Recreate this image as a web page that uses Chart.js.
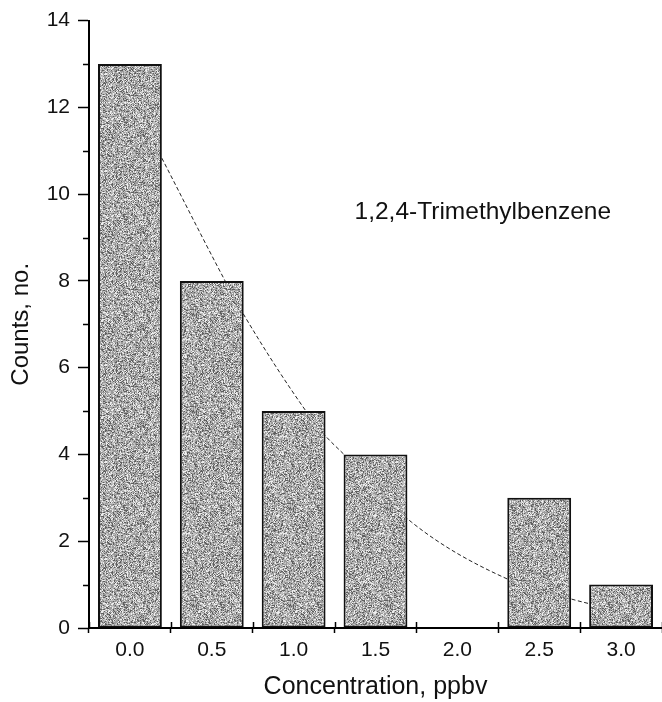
<!DOCTYPE html>
<html>
<head>
<meta charset="utf-8">
<script src="https://cdn.jsdelivr.net/npm/chart.js@4/dist/chart.umd.min.js"></script>
<style>
  html, body { margin: 0; padding: 0; background: #fff; }
  #wrap { width: 662px; height: 702px; }
</style>
</head>
<body>
<div id="wrap"><canvas id="c" width="662" height="702"></canvas></div>
<script>
// Concentration classes (ppbv) and number of samples in each
const categories = ['0.0', '0.5', '1.0', '1.5', '2.0', '2.5', '3.0'];
const counts = [13, 8, 5, 4, 0, 3, 1];

// Fitted decay curve, sampled along the concentration axis
const fitConc = [0.195, 0.573, 0.683, 1.079, 1.189, 1.305, 1.72, 2.305, 2.713, 2.817];
const fitCounts = [10.83, 8.06, 7.30, 4.98, 4.45, 4.01, 2.44, 1.13, 0.65, 0.55];

// Y axis ticks
const yMajorTicks = [0, 2, 4, 6, 8, 10, 12, 14];
const yMinorTicks = [1, 3, 5, 7, 9, 11, 13];

// Compound label, anchored in data units (concentration, count)
const compoundName = '1,2,4-Trimethylbenzene';
const compoundAnchor = [1.372, 9.42];

const FONT = '"Liberation Sans", Arial, Helvetica, sans-serif';

// 32-bit integer hash used for the speckle texture
function hash32(n) {
  n = n >>> 0;
  n ^= n >>> 16; n = Math.imul(n, 0x7feb352d);
  n ^= n >>> 15; n = Math.imul(n, 0x846ca68b);
  n ^= n >>> 16;
  return n >>> 0;
}

// Speckled grey fill for the bars
function stipplePattern() {
  const size = 97;
  const t = document.createElement('canvas');
  t.width = size; t.height = size;
  const g = t.getContext('2d');
  const img = g.createImageData(size, size);
  for (let y = 0; y < size; y++) {
    for (let x = 0; x < size; x++) {
      const u = (hash32(y * size + x + 12345) % 1000) / 1000;
      let v;
      if (u < 0.18) v = 95;
      else if (u < 0.55) v = 155;
      else if (u < 0.85) v = 195;
      else v = 238;
      const k = (y * size + x) * 4;
      img.data[k] = img.data[k + 1] = img.data[k + 2] = v;
      img.data[k + 3] = 255;
    }
  }
  g.putImageData(img, 0, 0);
  return document.getElementById('c').getContext('2d').createPattern(t, 'repeat');
}

// Short tick marks that Chart.js does not draw by itself:
// minor y ticks and the inner half of the x boundary ticks.
const extraTicks = {
  id: 'extraTicks',
  afterDraw(chart) {
    const { ctx, scales } = chart;
    const x = scales.x, y = scales.y;
    ctx.save();
    ctx.strokeStyle = '#000';
    ctx.lineWidth = 1.5;
    yMinorTicks.forEach(v => {
      const py = Math.round(y.getPixelForValue(v)) + 0.5;
      ctx.beginPath();
      ctx.moveTo(x.left - 6, py);
      ctx.lineTo(x.left, py);
      ctx.stroke();
    });
    const axisY = y.getPixelForValue(0);
    for (let i = 0; i <= categories.length; i++) {
      const px = Math.round(x.getPixelForValue(i - 0.5)) + 0.5;
      ctx.beginPath();
      ctx.moveTo(px, axisY - 6);
      ctx.lineTo(px, axisY);
      ctx.stroke();
    }
    ctx.restore();
  }
};

const compoundLabel = {
  id: 'compoundLabel',
  afterDatasetsDraw(chart) {
    const { ctx, scales } = chart;
    ctx.save();
    ctx.font = '24.5px ' + FONT;
    ctx.fillStyle = '#111';
    ctx.textAlign = 'left';
    ctx.textBaseline = 'alphabetic';
    ctx.fillText(compoundName,
      scales.xc.getPixelForValue(compoundAnchor[0]),
      scales.y.getPixelForValue(compoundAnchor[1]));
    ctx.restore();
  }
};

new Chart(document.getElementById('c'), {
  type: 'bar',
  data: {
    labels: categories,
    datasets: [
      {
        type: 'bar',
        xAxisID: 'x',
        yAxisID: 'y',
        data: counts,
        backgroundColor: stipplePattern(),
        borderColor: '#111',
        borderWidth: 2,
        borderSkipped: false,
        grouped: false,
        categoryPercentage: 1,
        barPercentage: 0.78,
        order: 1
      },
      {
        type: 'line',
        xAxisID: 'xc',
        yAxisID: 'y',
        data: fitConc.map((c, i) => ({ x: c, y: fitCounts[i] })),
        borderColor: '#222',
        borderWidth: 1,
        borderDash: [4, 2.5],
        pointRadius: 0,
        fill: false,
        cubicInterpolationMode: 'monotone',
        order: 2
      }
    ]
  },
  options: {
    responsive: false,
    animation: false,
    devicePixelRatio: 1,
    layout: { padding: { top: 17, right: 0, bottom: 0, left: 0 } },
    plugins: {
      legend: { display: false },
      tooltip: { enabled: false }
    },
    scales: {
      x: {
        type: 'category',
        offset: true,
        afterFit(s) { s.height = 74; },
        border: { display: true, color: '#000', width: 2 },
        grid: {
          display: true,
          offset: true,
          drawOnChartArea: false,
          drawTicks: true,
          tickLength: 5,
          tickColor: '#000',
          tickWidth: 1.5
        },
        ticks: {
          color: '#111',
          font: { family: FONT, size: 21 },
          padding: 5,
          maxRotation: 0
        },
        title: {
          display: true,
          text: 'Concentration, ppbv',
          color: '#111',
          font: { family: FONT, size: 25 },
          padding: { top: 0, bottom: 0 }
        }
      },
      xc: {
        type: 'linear',
        display: false,
        offset: false,
        min: -0.25,
        max: 3.25,
        grid: { offset: false }
      },
      y: {
        min: 0,
        max: 14,
        afterFit(s) { s.width = 89; },
        afterBuildTicks(s) { s.ticks = yMajorTicks.map(v => ({ value: v })); },
        border: { display: true, color: '#000', width: 2 },
        grid: {
          display: true,
          drawOnChartArea: false,
          drawTicks: true,
          tickLength: 11,
          tickColor: '#000',
          tickWidth: 1.5
        },
        ticks: {
          color: '#111',
          font: { family: FONT, size: 21 },
          padding: 8
        },
        title: {
          display: true,
          text: 'Counts, no.',
          color: '#111',
          font: { family: FONT, size: 24 },
          padding: { top: 7, bottom: 0 }
        }
      }
    }
  },
  plugins: [extraTicks, compoundLabel]
});
</script>
</body>
</html>
